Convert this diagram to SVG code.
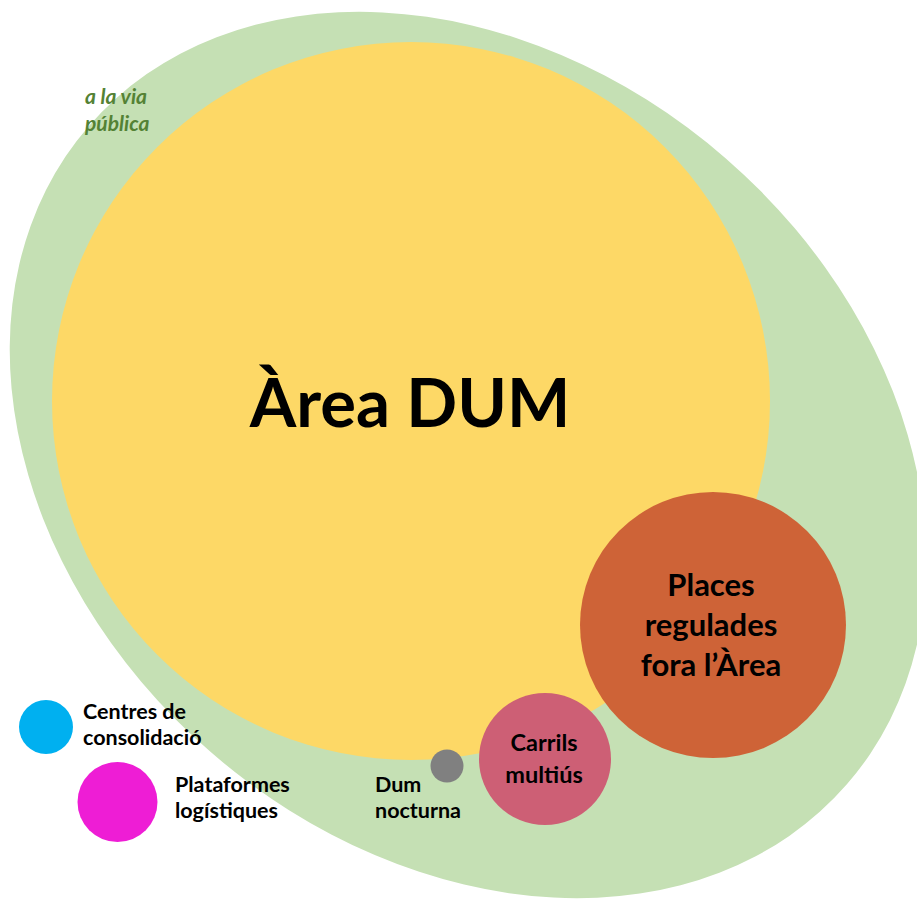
<svg xmlns="http://www.w3.org/2000/svg" width="917" height="900" viewBox="0 0 917 900">
<style>
text{font-family:Lato,"Open Sans","Liberation Sans",sans-serif;font-weight:bold;fill:#000}
.c{text-anchor:middle}
.via{font-style:italic;fill:#548235;font-size:21px}
.lg{font-size:21.5px}
.pl{font-size:31px}
.cm{font-size:23.5px}
</style>
<rect width="917" height="900" fill="#fff"/>
<g id="via-publica">
<ellipse cx="468" cy="455" rx="502" ry="393" transform="rotate(41 468 455)" fill="#C5E0B4"/>
<text class="via" x="85" y="104">a la via</text>
<text class="via" x="85" y="131">pública</text>
</g>
<g id="area-dum">
<circle cx="411" cy="401" r="359" fill="#FDD866"/>
<text class="c" x="410" y="427" font-size="67">Àrea DUM</text>
</g>
<g id="places-regulades">
<circle cx="713" cy="625" r="133" fill="#CE6337"/>
<text class="c pl" x="711" y="596">Places</text>
<text class="c pl" x="711" y="636">regulades</text>
<text class="c pl" x="711" y="676">fora l’Àrea</text>
</g>
<g id="carrils-multius">
<circle cx="545" cy="759" r="66" fill="#CD5F75"/>
<text class="c cm" x="544" y="751">Carrils</text>
<text class="c cm" x="544" y="783">multiús</text>
</g>
<g id="dum-nocturna">
<circle cx="447" cy="766" r="16.5" fill="#808080"/>
<text class="lg" x="375" y="792">Dum</text>
<text class="lg" x="375" y="818">nocturna</text>
</g>
<g id="centres-consolidacio">
<circle cx="46" cy="727" r="27" fill="#00B0F0"/>
<text class="lg" x="83" y="719">Centres de</text>
<text class="lg" x="83" y="745">consolidació</text>
</g>
<g id="plataformes-logistiques">
<circle cx="117.5" cy="802" r="40" fill="#EE1DD5"/>
<text class="lg" x="175" y="792">Plataformes</text>
<text class="lg" x="175" y="818">logístiques</text>
</g>
<g id="connectors"/>
</svg>
